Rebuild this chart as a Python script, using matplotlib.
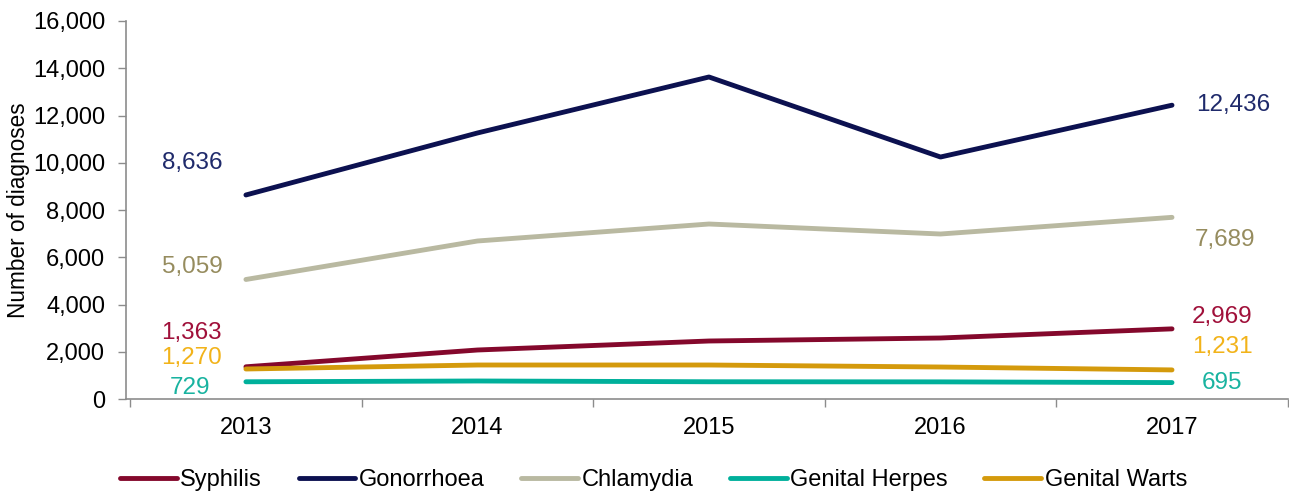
import matplotlib
matplotlib.use("Agg")
import matplotlib.pyplot as plt
from matplotlib.ticker import FuncFormatter, FixedLocator

plt.rcParams['font.family'] = ['Liberation Sans', 'DejaVu Sans']

years = ["2013", "2014", "2015", "2016", "2017"]
syphilis = [1363, 2074, 2455, 2582, 2969]
gonorrhoea = [8636, 11260, 13630, 10243, 12436]
chlamydia = [5059, 6688, 7407, 6984, 7689]
herpes = [729, 762, 730, 725, 695]
warts = [1270, 1439, 1439, 1354, 1231]

series = [
    ("Syphilis", syphilis, "#84082c", "#a0103a", (-54, 34), (50, 12)),
    ("Gonorrhoea", gonorrhoea, "#0c1150", "#1f2a6b", (-54, 32), (61, 0)),
    ("Chlamydia", chlamydia, "#b9b9a1", "#968c5e", (-54, 12), (53, -23)),
    ("Genital Herpes", herpes, "#00b09b", "#19b3a0", (-56, -6), (50, 0)),
    ("Genital Warts", warts, "#d49a0c", "#f2b31a", (-54, 11), (50, 23)),
]

fig = plt.figure(figsize=(12.89, 4.96), dpi=100)
ax = fig.add_axes([126/1289, 97/496, 1162/1289, 378/496])
x = list(range(len(years)))

for name, vals, col, lcol, loff, roff in series:
    ax.plot(x, vals, color=col, lw=3.5, solid_capstyle='round', label=name)
    ax.annotate(f"{vals[0]:,}", (x[0], vals[0]), xytext=loff, textcoords='offset pixels',
                ha='center', va='center', color=lcol, fontsize=17.5)
    ax.annotate(f"{vals[-1]:,}", (x[-1], vals[-1]), xytext=roff, textcoords='offset pixels',
                ha='center', va='center', color=lcol, fontsize=17.5)

ax.set_xlim(-0.518, 4.501)
ax.set_ylim(0, 16000)
ax.set_yticks(range(0, 16001, 2000))
ax.yaxis.set_major_formatter(FuncFormatter(lambda v, p: f"{int(v):,}"))
ax.set_xticks(x)
ax.set_xticklabels(years)
ax.xaxis.set_minor_locator(FixedLocator([-0.5, 0.5, 1.5, 2.5, 3.5, 4.5]))
ax.tick_params(axis='x', which='major', length=0, pad=13, labelsize=17)
ax.tick_params(axis='x', which='minor', length=6, width=1, color='#8c8c8c', direction='out')
ax.tick_params(axis='y', length=6, width=1, color='#8c8c8c', labelsize=17, pad=9)
for s in ['top', 'right']:
    ax.spines[s].set_visible(False)
for s in ['left', 'bottom']:
    ax.spines[s].set_color('#8c8c8c')
    ax.spines[s].set_linewidth(1.2)
ax.set_ylabel("Number of diagnoses", fontsize=16.3)
ax.yaxis.set_label_coords(-0.083, 0.5)

fig.legend(loc='center', bbox_to_anchor=(0.507, 16/496), ncol=5, frameon=False,
           fontsize=17, handlelength=2.4, columnspacing=1.55, handletextpad=0.15)

fig.savefig("out.png", dpi=100)
